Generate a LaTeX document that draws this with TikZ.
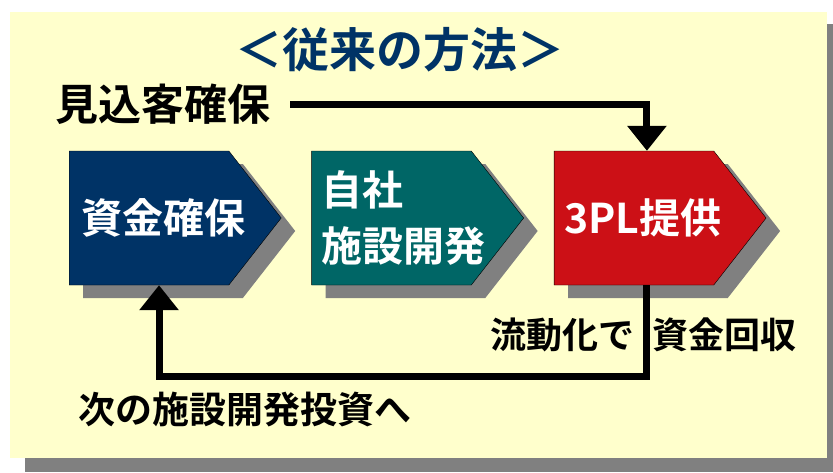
\documentclass[tikz,border=0pt]{standalone}
\usepackage{fontspec}
\setmainfont{Noto Sans CJK JP}[BoldFont={Noto Sans CJK JP Bold}]
\usepackage{tikz}
\usetikzlibrary{shapes.symbols, arrows.meta, positioning, shadows}
\definecolor{paperyellow}{RGB}{255, 255, 204}
\definecolor{shadowgray}{RGB}{128, 128, 128}
\definecolor{navyblue}{RGB}{0, 51, 102}
\definecolor{deepteal}{RGB}{0, 102, 102}
\definecolor{signalred}{RGB}{204, 16, 22}

\begin{document}
\begin{tikzpicture}[
    x=1pt, y=1pt,
    node distance=30pt,
    font=\bfseries,
    % Style definitions
    stepbox/.style={signal, signal to=east, signal pointer angle=104, draw=black, thin, minimum width=212pt, minimum height=134pt, inner sep=0pt, drop shadow={shadow xshift=14pt, shadow yshift=-13pt, fill=shadowgray, opacity=1}},
    boxtext/.style={text=white, font=\fontsize{41}{56}\selectfont\bfseries, align=left, inner sep=0pt},
    flowtext/.style={font=\fontsize{37}{44}\selectfont\bfseries, inner sep=0pt, anchor=west},
    flowarrow/.style={line width=7pt, -{Triangle[width=38pt, length=25pt]}}
]

    % === Background sheet ===
    \useasboundingbox (0,0) rectangle (833,-472);
    \fill [shadowgray] (25,-24) rectangle (833,-472);
    \fill [paperyellow] (10,-12) rectangle (827,-458);

    \node (title) [font=\fontsize{47}{56}\selectfont\bfseries, text=navyblue] at (400,-50) {＜従来の方法＞};
    \node (prospect) [font=\fontsize{43}{50}\selectfont\bfseries, inner sep=0pt, anchor=west] at (55,-104) {見込客確保};

    % === Steps ===
    \node (fund) [stepbox, fill=navyblue, anchor=west] at (69,-218) {};
    \node (develop) [stepbox, fill=deepteal, right=of fund] {};
    \node (provide) [stepbox, fill=signalred, right=of develop] {};

    \node (fundtxt) [boxtext, right=12pt of fund.west] {資金確保};
    \node (developtxt) [boxtext, right=10pt of develop.west] {自社\\施設開発};
    \node (providetxt) [boxtext, right=10pt of provide.west] {3PL提供};

    % === Connectors ===
    \draw [flowarrow] ([xshift=20pt]prospect.east) -| ([xshift=13pt]provide.north);
    \draw [flowarrow] ([xshift=13pt]provide.south) -- ++(0,-91) -| ([xshift=10pt]fund.south);

    \node (recover) [flowtext, font=\fontsize{36}{44}\selectfont\bfseries] at (490,-335) {流動化で\hspace{18pt}資金回収};
    \node (nextinvest) [flowtext] at (78,-410) {次の施設開発投資へ};

\end{tikzpicture}
\end{document}
